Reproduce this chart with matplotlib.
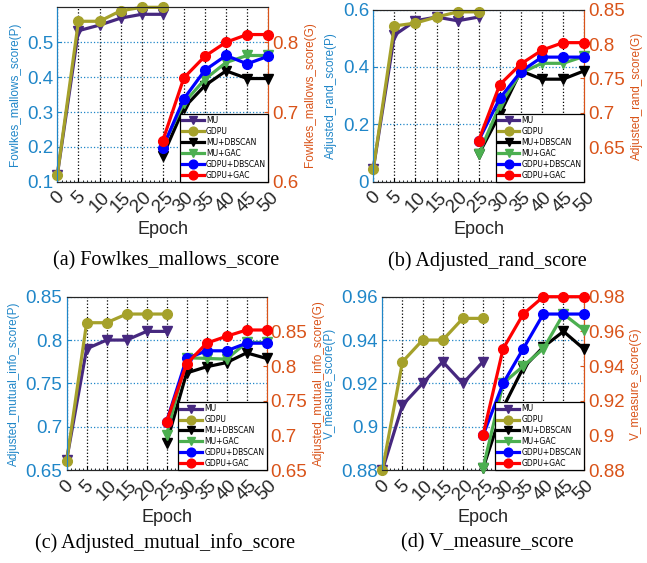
import numpy as np
import matplotlib.pyplot as plt

# Epochs for the two stages
epochs_p = [0, 5, 10, 15, 20, 25]
epochs_g = [25, 30, 35, 40, 45, 50]

labels = ['MU', 'GDPU', 'MU+DBSCAN', 'MU+GAC', 'GDPU+DBSCAN', 'GDPU+GAC']

# (a) Fowlkes_mallows_score
fm_mu = [0.12, 0.533, 0.549, 0.569, 0.58, 0.58]
fm_gdpu = [0.12, 0.56, 0.56, 0.59, 0.60, 0.60]
fm_mu_dbscan = [0.637, 0.706, 0.738, 0.759, 0.748, 0.748]
fm_mu_gac = [0.651, 0.713, 0.747, 0.771, 0.781, 0.781]
fm_gdpu_dbscan = [0.649, 0.719, 0.760, 0.781, 0.769, 0.780]
fm_gdpu_gac = [0.659, 0.749, 0.780, 0.800, 0.811, 0.811]

# (b) Adjusted_rand_score
ar_mu = [0.046, 0.511, 0.561, 0.574, 0.561, 0.574]
ar_gdpu = [0.046, 0.543, 0.553, 0.574, 0.592, 0.592]
ar_mu_dbscan = [0.640, 0.698, 0.761, 0.749, 0.749, 0.761]
ar_mu_gac = [0.640, 0.711, 0.758, 0.772, 0.772, 0.782]
ar_gdpu_dbscan = [0.660, 0.721, 0.760, 0.781, 0.781, 0.781]
ar_gdpu_gac = [0.660, 0.741, 0.771, 0.791, 0.802, 0.802]

# (c) Adjusted_mutual_info_score
am_mu = [0.662, 0.79, 0.80, 0.80, 0.81, 0.81]
am_gdpu = [0.66, 0.82, 0.82, 0.83, 0.83, 0.83]
am_mu_dbscan = [0.689, 0.790, 0.799, 0.805, 0.819, 0.811]
am_mu_gac = [0.701, 0.812, 0.811, 0.810, 0.834, 0.834]
am_gdpu_dbscan = [0.72, 0.811, 0.822, 0.822, 0.833, 0.833]
am_gdpu_gac = [0.72, 0.803, 0.833, 0.843, 0.852, 0.852]

# (d) V_measure_score
vm_mu = [0.88, 0.91, 0.92, 0.93, 0.92, 0.93]
vm_gdpu = [0.88, 0.93, 0.94, 0.94, 0.95, 0.95]
vm_mu_dbscan = [0.881, 0.916, 0.939, 0.951, 0.960, 0.950]
vm_mu_gac = [0.881, 0.930, 0.940, 0.950, 0.970, 0.961]
vm_gdpu_dbscan = [0.90, 0.930, 0.950, 0.970, 0.970, 0.970]
vm_gdpu_gac = [0.90, 0.950, 0.970, 0.980, 0.980, 0.980]

colors = ['#46287F', '#A5A12B', 'black', '#4CAF50', '#0000FF', '#FF0000']
markers = ['v', 'o', 'v', 'v', 'o', 'o']
c_left = '#1F86C8'
c_right = '#D95319'
tick_font = 'Liberation Sans'


def draw_panel(rect, left_series, right_series, ylim_l, yticks_l, ylim_r, yticks_r,
               name, caption, caption_xy):
    ax = fig.add_axes(rect)
    ax2 = ax.twinx()
    handles = []
    for i, s in enumerate(left_series):
        h, = ax.plot(epochs_p, s, color=colors[i], marker=markers[i], lw=2.3, ms=7,
                     label=labels[i], clip_on=False, zorder=3)
        handles.append(h)
    for j, s in enumerate(right_series):
        i = j + 2
        h, = ax2.plot(epochs_g, s, color=colors[i], marker=markers[i], lw=2.3, ms=7,
                      label=labels[i], clip_on=False, zorder=3)
        handles.append(h)

    ax.set_xlim(0, 50)
    ax.set_xticks(range(0, 51, 5))
    ax.set_xticklabels([str(v) for v in range(0, 51, 5)], rotation=45, fontsize=13.5,
                       family=tick_font, color='#262626', ha='center', va='top')
    ax.set_xticks(np.arange(0, 51, 1), minor=True)
    ax.tick_params(axis='x', which='both', direction='in', top=False, length=3, pad=5)
    ax.tick_params(axis='x', which='minor', length=1.5)
    ax.set_xlabel('Epoch', fontsize=13, family=tick_font, color='#262626', labelpad=4)

    ax.set_ylim(*ylim_l)
    ax.set_yticks(yticks_l)
    ax.set_yticklabels([f'{v:g}' for v in yticks_l], fontsize=13.5, family=tick_font, color=c_left)
    ax.tick_params(axis='y', direction='in', colors=c_left, length=3, pad=3)
    ax.set_ylabel(name + '(P)', fontsize=8.5, family=tick_font, color=c_left, labelpad=4)

    ax2.set_ylim(*ylim_r)
    ax2.set_yticks(yticks_r)
    ax2.set_yticklabels([f'{v:g}' for v in yticks_r], fontsize=13.5, family=tick_font, color=c_right)
    ax2.tick_params(axis='y', direction='in', colors=c_right, length=3, pad=3)
    ax2.set_ylabel(name + '(G)', fontsize=8.5, family=tick_font, color=c_right, labelpad=4)

    ax.spines['left'].set_color(c_left)
    ax2.spines['left'].set_color(c_left)
    ax2.spines['right'].set_color(c_right)
    ax.spines['right'].set_color(c_right)
    for sp in ['top', 'bottom']:
        ax.spines[sp].set_color('#262626')
        ax2.spines[sp].set_color('#262626')

    ax.grid(axis='x', color='black', linestyle=':', lw=0.9)
    ax.grid(axis='y', color=c_left, linestyle=':', lw=0.9)
    ax.set_axisbelow(True)

    leg = ax2.legend(handles=handles, loc='lower right', fontsize=5.5, handlelength=2.8,
                     labelspacing=0.25, borderpad=0.3, handletextpad=0.3, borderaxespad=0.0,
                     fancybox=False, framealpha=1, edgecolor='black', markerscale=0.9)
    leg.get_frame().set_linewidth(0.9)
    leg.set_zorder(5)

    fig.text(caption_xy[0], caption_xy[1], caption, ha='center', va='center',
             fontsize=14.5, family='Liberation Serif')


fig = plt.figure(figsize=(6.47, 5.63), dpi=100)

draw_panel([0.0886, 0.677, 0.326, 0.310],
           [fm_mu, fm_gdpu], [fm_mu_dbscan, fm_mu_gac, fm_gdpu_dbscan, fm_gdpu_gac],
           (0.1, 0.6), [0.1, 0.2, 0.3, 0.4, 0.5], (0.6, 0.85), [0.6, 0.7, 0.8],
           'Fowlkes_mallows_score', '(a) Fowlkes_mallows_score', (166 / 647, 1 - 261 / 563))

draw_panel([0.577, 0.677, 0.3257, 0.306],
           [ar_mu, ar_gdpu], [ar_mu_dbscan, ar_mu_gac, ar_gdpu_dbscan, ar_gdpu_gac],
           (0, 0.6), [0, 0.2, 0.4, 0.6], (0.6, 0.85), [0.65, 0.7, 0.75, 0.8, 0.85],
           'Adjusted_rand_score', '(b) Adjusted_rand_score', (487 / 647, 1 - 261 / 563))

draw_panel([0.103, 0.165, 0.309, 0.308],
           [am_mu, am_gdpu], [am_mu_dbscan, am_mu_gac, am_gdpu_dbscan, am_gdpu_gac],
           (0.65, 0.85), [0.65, 0.7, 0.75, 0.8, 0.85], (0.65, 0.9), [0.65, 0.7, 0.75, 0.8, 0.85],
           'Adjusted_mutual_info_score', '(c) Adjusted_mutual_info_score', (165 / 647, 1 - 543 / 563))

draw_panel([0.591, 0.165, 0.311, 0.308],
           [vm_mu, vm_gdpu], [vm_mu_dbscan, vm_mu_gac, vm_gdpu_dbscan, vm_gdpu_gac],
           (0.88, 0.96), [0.88, 0.9, 0.92, 0.94, 0.96], (0.88, 0.98), [0.88, 0.9, 0.92, 0.94, 0.96, 0.98],
           'V_measure_score', '(d) V_measure_score', (487 / 647, 1 - 543 / 563))

plt.savefig('out.png', dpi=100)
